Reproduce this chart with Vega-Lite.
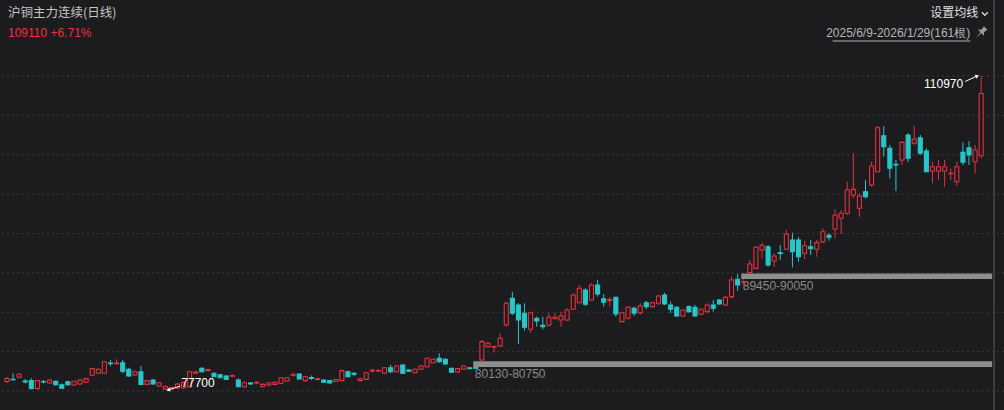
{
  "$schema": "https://vega.github.io/schema/vega-lite/v6.json",
  "width": 1004,
  "height": 410,
  "padding": 0,
  "autosize": {"type": "none"},
  "background": "#1c1c1e",
  "config": {"view": {"stroke": null}, "font": "Liberation Sans"},
  "title": {
    "text": "沪铜主力连续(日线)",
    "subtitle": "109110 +6.71%",
    "anchor": "start",
    "frame": "group",
    "orient": "top",
    "offset": -40,
    "dx": 8,
    "font": "Noto Sans CJK SC",
    "fontSize": 12.5,
    "fontWeight": "normal",
    "color": "#c4c4c4",
    "subtitleFont": "Liberation Sans",
    "subtitleFontSize": 12,
    "subtitleColor": "#f0303e",
    "subtitlePadding": 9
  },
  "datasets": {
    "candles": [
      {"i":0,"o":78600,"h":79080,"l":78440,"c":78920},
      {"i":1,"o":78830,"h":79470,"l":78710,"c":78780},
      {"i":2,"o":79050,"h":79450,"l":78970,"c":79360},
      {"i":3,"o":78650,"h":78870,"l":78390,"c":78550},
      {"i":4,"o":78690,"h":78940,"l":77750,"c":77860},
      {"i":5,"o":77840,"h":78760,"l":77750,"c":78690},
      {"i":6,"o":78600,"h":78760,"l":78390,"c":78550},
      {"i":7,"o":78440,"h":78870,"l":78340,"c":78760},
      {"i":8,"o":78620,"h":78710,"l":78180,"c":78260},
      {"i":9,"o":78260,"h":78390,"l":77810,"c":77880},
      {"i":10,"o":78580,"h":78690,"l":78160,"c":78260},
      {"i":11,"o":78230,"h":78650,"l":78120,"c":78620},
      {"i":12,"o":78340,"h":78870,"l":78230,"c":78760},
      {"i":13,"o":78520,"h":78970,"l":78440,"c":78900},
      {"i":14,"o":79260,"h":80080,"l":79180,"c":79960},
      {"i":15,"o":79470,"h":79980,"l":79400,"c":79890},
      {"i":16,"o":79470,"h":80770,"l":79400,"c":80700},
      {"i":17,"o":80560,"h":80880,"l":80240,"c":80490},
      {"i":18,"o":80490,"h":80950,"l":80350,"c":80560},
      {"i":19,"o":80590,"h":80880,"l":79470,"c":79680},
      {"i":20,"o":79890,"h":80060,"l":79080,"c":79180},
      {"i":21,"o":79290,"h":79770,"l":79180,"c":79640},
      {"i":22,"o":79640,"h":80240,"l":78200,"c":78300},
      {"i":23,"o":78300,"h":78760,"l":78230,"c":78690},
      {"i":24,"o":78760,"h":78870,"l":78230,"c":78340},
      {"i":25,"o":78120,"h":78550,"l":78050,"c":78470},
      {"i":26,"o":77810,"h":78180,"l":77700,"c":78070},
      {"i":27,"o":77810,"h":78070,"l":77730,"c":77970},
      {"i":28,"o":77910,"h":78440,"l":77810,"c":78340},
      {"i":29,"o":77910,"h":78600,"l":77810,"c":78500},
      {"i":30,"o":78020,"h":79710,"l":77910,"c":79640},
      {"i":31,"o":79470,"h":79750,"l":79400,"c":79610},
      {"i":32,"o":80000,"h":80110,"l":79580,"c":79640},
      {"i":33,"o":79750,"h":79960,"l":79710,"c":79870},
      {"i":34,"o":79470,"h":79550,"l":79080,"c":79110},
      {"i":35,"o":79320,"h":79400,"l":78970,"c":79000},
      {"i":36,"o":79180,"h":79290,"l":78760,"c":78830},
      {"i":37,"o":79150,"h":79360,"l":79080,"c":79220},
      {"i":38,"o":78760,"h":78940,"l":77990,"c":78050},
      {"i":39,"o":78050,"h":78600,"l":77970,"c":78470},
      {"i":40,"o":78440,"h":78550,"l":78230,"c":78340},
      {"i":41,"o":78440,"h":78600,"l":78340,"c":78520},
      {"i":42,"o":78050,"h":78390,"l":77970,"c":78300},
      {"i":43,"o":78230,"h":78550,"l":78120,"c":78470},
      {"i":44,"o":78300,"h":78600,"l":78230,"c":78520},
      {"i":45,"o":78410,"h":79080,"l":78340,"c":79000},
      {"i":46,"o":78650,"h":79080,"l":78580,"c":79000},
      {"i":47,"o":79260,"h":79550,"l":79130,"c":79320},
      {"i":48,"o":79400,"h":79450,"l":78810,"c":78870},
      {"i":49,"o":78690,"h":79180,"l":78580,"c":79110},
      {"i":50,"o":79020,"h":79240,"l":78760,"c":78920},
      {"i":51,"o":78810,"h":78970,"l":78710,"c":78900},
      {"i":52,"o":78760,"h":78810,"l":78440,"c":78520},
      {"i":53,"o":78710,"h":78760,"l":78390,"c":78440},
      {"i":54,"o":78600,"h":78870,"l":78550,"c":78810},
      {"i":55,"o":78690,"h":79870,"l":78650,"c":79750},
      {"i":56,"o":79640,"h":79750,"l":79050,"c":79110},
      {"i":57,"o":79470,"h":79580,"l":79180,"c":79360},
      {"i":58,"o":78710,"h":79020,"l":78580,"c":78870},
      {"i":59,"o":78830,"h":79610,"l":78760,"c":79530},
      {"i":60,"o":79710,"h":79960,"l":79550,"c":79790},
      {"i":61,"o":79710,"h":79870,"l":79610,"c":79770},
      {"i":62,"o":79470,"h":80140,"l":79400,"c":80060},
      {"i":63,"o":80060,"h":80350,"l":79470,"c":79640},
      {"i":64,"o":79640,"h":80320,"l":79580,"c":80240},
      {"i":65,"o":80350,"h":80420,"l":79400,"c":79470},
      {"i":66,"o":79820,"h":79890,"l":79610,"c":79680},
      {"i":67,"o":79530,"h":79980,"l":79470,"c":79890},
      {"i":68,"o":79890,"h":80320,"l":79820,"c":80240},
      {"i":69,"o":80170,"h":81140,"l":80110,"c":81060},
      {"i":70,"o":80590,"h":81020,"l":80530,"c":80950},
      {"i":71,"o":81060,"h":81590,"l":80590,"c":80700},
      {"i":72,"o":80950,"h":81060,"l":80380,"c":80460},
      {"i":73,"o":80000,"h":80060,"l":79500,"c":79580},
      {"i":74,"o":79610,"h":80030,"l":79530,"c":79960},
      {"i":75,"o":79890,"h":80320,"l":79820,"c":80240},
      {"i":76,"o":80050,"h":80110,"l":79870,"c":79970},
      {"i":77,"o":80080,"h":80130,"l":79930,"c":80000},
      {"i":78,"o":80880,"h":83000,"l":80750,"c":82820},
      {"i":79,"o":82290,"h":82790,"l":82180,"c":82650},
      {"i":80,"o":82230,"h":82420,"l":81670,"c":82290},
      {"i":81,"o":82360,"h":83710,"l":82260,"c":83180},
      {"i":82,"o":84590,"h":87060,"l":84410,"c":86890},
      {"i":83,"o":87420,"h":88120,"l":85650,"c":85830},
      {"i":84,"o":86710,"h":86890,"l":82570,"c":85120},
      {"i":85,"o":85830,"h":86890,"l":83980,"c":84340},
      {"i":86,"o":84130,"h":86000,"l":83770,"c":85890},
      {"i":87,"o":85300,"h":85470,"l":84410,"c":85010},
      {"i":88,"o":84560,"h":85470,"l":84130,"c":84410},
      {"i":89,"o":84590,"h":85890,"l":84410,"c":85400},
      {"i":90,"o":85250,"h":85890,"l":85190,"c":85400},
      {"i":91,"o":85120,"h":86000,"l":84410,"c":85540},
      {"i":92,"o":85120,"h":86360,"l":85010,"c":86180},
      {"i":93,"o":86250,"h":87950,"l":86180,"c":87770},
      {"i":94,"o":86950,"h":88830,"l":86890,"c":88480},
      {"i":95,"o":88300,"h":88480,"l":86600,"c":86780},
      {"i":96,"o":87240,"h":89010,"l":87160,"c":88830},
      {"i":97,"o":88830,"h":89360,"l":87590,"c":87870},
      {"i":98,"o":87370,"h":87870,"l":86530,"c":86990},
      {"i":99,"o":87180,"h":87520,"l":86600,"c":87290},
      {"i":100,"o":87520,"h":87590,"l":85470,"c":85750},
      {"i":101,"o":84940,"h":86000,"l":84870,"c":85890},
      {"i":102,"o":85300,"h":86600,"l":85170,"c":86460},
      {"i":103,"o":86360,"h":86530,"l":85540,"c":85830},
      {"i":104,"o":85890,"h":86890,"l":85650,"c":86600},
      {"i":105,"o":86950,"h":87160,"l":86250,"c":86530},
      {"i":106,"o":86530,"h":87060,"l":86440,"c":86950},
      {"i":107,"o":86890,"h":87770,"l":86710,"c":87660},
      {"i":108,"o":87770,"h":88010,"l":86710,"c":86810},
      {"i":109,"o":86710,"h":87060,"l":85830,"c":86250},
      {"i":110,"o":86460,"h":86600,"l":85430,"c":85540},
      {"i":111,"o":85540,"h":86280,"l":85430,"c":86180},
      {"i":112,"o":86530,"h":86650,"l":85910,"c":86000},
      {"i":113,"o":86460,"h":86710,"l":85470,"c":85540},
      {"i":114,"o":85720,"h":86340,"l":85650,"c":86250},
      {"i":115,"o":86000,"h":86890,"l":85830,"c":86710},
      {"i":116,"o":86710,"h":87240,"l":86000,"c":86360},
      {"i":117,"o":87240,"h":87340,"l":86710,"c":86810},
      {"i":118,"o":86710,"h":87660,"l":86600,"c":87520},
      {"i":119,"o":87590,"h":89700,"l":87420,"c":89360},
      {"i":120,"o":89430,"h":89990,"l":88220,"c":88830},
      {"i":121,"o":89110,"h":89450,"l":88720,"c":89170},
      {"i":122,"o":90150,"h":91470,"l":90050,"c":91050},
      {"i":123,"o":90590,"h":92960,"l":90490,"c":92820},
      {"i":124,"o":92530,"h":93310,"l":91650,"c":93030},
      {"i":125,"o":92880,"h":93060,"l":90760,"c":90940},
      {"i":126,"o":91370,"h":92180,"l":90760,"c":91900},
      {"i":127,"o":92250,"h":93060,"l":91470,"c":92160},
      {"i":128,"o":92610,"h":94650,"l":92530,"c":94230},
      {"i":129,"o":93590,"h":94370,"l":90700,"c":92350},
      {"i":130,"o":93590,"h":93880,"l":91290,"c":91820},
      {"i":131,"o":92180,"h":93520,"l":91550,"c":92990},
      {"i":132,"o":92880,"h":93590,"l":92000,"c":92670},
      {"i":133,"o":92610,"h":93590,"l":91820,"c":93310},
      {"i":134,"o":93410,"h":94830,"l":93240,"c":94470},
      {"i":135,"o":94090,"h":94300,"l":93520,"c":93880},
      {"i":136,"o":94760,"h":96850,"l":93770,"c":96240},
      {"i":137,"o":95890,"h":96770,"l":94230,"c":96420},
      {"i":138,"o":96420,"h":99770,"l":96240,"c":98890},
      {"i":139,"o":98360,"h":102780,"l":98010,"c":98960},
      {"i":140,"o":96950,"h":98540,"l":96060,"c":98250},
      {"i":141,"o":98710,"h":99950,"l":98010,"c":98180},
      {"i":142,"o":99420,"h":101890,"l":99240,"c":101430},
      {"i":143,"o":100830,"h":105670,"l":100770,"c":105490},
      {"i":144,"o":104640,"h":105670,"l":102420,"c":103480},
      {"i":145,"o":103310,"h":103660,"l":100130,"c":101190},
      {"i":146,"o":101610,"h":102070,"l":98780,"c":101540},
      {"i":147,"o":102070,"h":104080,"l":101540,"c":103940},
      {"i":148,"o":104720,"h":104900,"l":101830,"c":102250},
      {"i":149,"o":103840,"h":105700,"l":103660,"c":104290},
      {"i":150,"o":104430,"h":104720,"l":102600,"c":102780},
      {"i":151,"o":103020,"h":103310,"l":100770,"c":100830},
      {"i":152,"o":100900,"h":101890,"l":99600,"c":101360},
      {"i":153,"o":100900,"h":102070,"l":99950,"c":101360},
      {"i":154,"o":100900,"h":102070,"l":99240,"c":101360},
      {"i":155,"o":100620,"h":101190,"l":99950,"c":100660},
      {"i":156,"o":99770,"h":101890,"l":99350,"c":101360},
      {"i":157,"o":102880,"h":103940,"l":101540,"c":101830},
      {"i":158,"o":103370,"h":104080,"l":101540,"c":102600},
      {"i":159,"o":101890,"h":103660,"l":100660,"c":103130},
      {"i":160,"o":102520,"h":110970,"l":102250,"c":109110}
    ],
    "grid": [
      {"g":110970},{"g":106798},{"g":102626},{"g":98454},{"g":94282},
      {"g":90110},{"g":85938},{"g":81766},{"g":77594}
    ],
    "gaps": [
      {"start":77,"lo":80130,"hi":80750,"label":"80130-80750"},
      {"start":121,"lo":89450,"hi":90050,"label":"89450-90050"}
    ]
  },
  "layer": [
    {
      "data": {"name": "grid"},
      "mark": {"type": "rule", "color": "#3b3b3d", "strokeWidth": 1, "strokeDash": [2, 3]},
      "encoding": {
        "y": {"field": "g", "type": "quantitative", "scale": {"domain": [75580, 119020], "nice": false, "zero": false}, "axis": null}
      }
    },
    {
      "data": {"values": [{}]},
      "mark": {"type": "rule", "color": "#3c3c3e", "strokeWidth": 2},
      "encoding": {
        "x": {"datum": 162.11, "type": "quantitative", "scale": {"domain": [-0.325, 162.927], "nice": false, "zero": false}, "axis": null}
      }
    },
    {
      "data": {"name": "gaps"},
      "layer": [
        {
          "mark": {"type": "rect", "color": "#8e8e8e", "opacity": 1, "xOffset": -2.5},
          "encoding": {
            "x": {"field": "start", "type": "quantitative", "scale": {"domain": [-0.325, 162.927], "nice": false, "zero": false}, "axis": null},
            "x2": {"datum": 161.8},
            "y": {"field": "lo", "type": "quantitative", "scale": {"domain": [75580, 119020], "nice": false, "zero": false}, "axis": null},
            "y2": {"field": "hi"}
          }
        },
        {
          "mark": {"type": "text", "color": "#8a8a8a", "fontSize": 12, "align": "left", "baseline": "middle", "dx": -1, "dy": 6.5, "font": "Liberation Sans"},
          "encoding": {
            "x": {"field": "start", "type": "quantitative", "scale": {"domain": [-0.325, 162.927], "nice": false, "zero": false}, "axis": null},
            "y": {"field": "lo", "type": "quantitative", "scale": {"domain": [75580, 119020], "nice": false, "zero": false}, "axis": null},
            "text": {"field": "label"}
          }
        }
      ]
    },
    {
      "data": {"name": "candles"},
      "layer": [
        {
          "mark": {"type": "rule", "strokeWidth": 1},
          "encoding": {
            "x": {"field": "i", "type": "quantitative", "scale": {"domain": [-0.325, 162.927], "nice": false, "zero": false}, "axis": null},
            "y": {"field": "l", "type": "quantitative", "scale": {"domain": [75580, 119020], "nice": false, "zero": false}, "axis": null},
            "y2": {"field": "h"},
            "color": {"condition": {"test": "datum.c >= datum.o", "value": "#e6323e"}, "value": "#27c6c9"}
          }
        },
        {
          "mark": {"type": "bar", "width": 4, "strokeWidth": 1.1},
          "encoding": {
            "x": {"field": "i", "type": "quantitative", "scale": {"domain": [-0.325, 162.927], "nice": false, "zero": false}, "axis": null},
            "y": {"field": "o", "type": "quantitative", "scale": {"domain": [75580, 119020], "nice": false, "zero": false}, "axis": null},
            "y2": {"field": "c"},
            "fill": {"condition": {"test": "datum.c >= datum.o", "value": "#1c1c1e"}, "value": "#27c6c9"},
            "stroke": {"condition": {"test": "datum.c >= datum.o", "value": "#e6323e"}, "value": "#27c6c9"}
          }
        }
      ]
    },
    {
      "data": {"values": [{"i": 160, "p": 110970, "label": "110970"}]},
      "layer": [
        {
          "mark": {"type": "rule", "color": "#ffffff", "strokeWidth": 1, "xOffset": -4, "yOffset": 0, "x2Offset": -16, "y2Offset": 5.5},
          "encoding": {
            "x": {"field": "i", "type": "quantitative", "scale": {"domain": [-0.325, 162.927], "nice": false, "zero": false}, "axis": null},
            "y": {"field": "p", "type": "quantitative", "scale": {"domain": [75580, 119020], "nice": false, "zero": false}, "axis": null},
            "x2": {"field": "i"},
            "y2": {"field": "p"}
          }
        },
        {
          "mark": {"type": "point", "shape": "triangle", "filled": true, "color": "#ffffff", "opacity": 1, "size": 18, "angle": 65, "xOffset": -4.5, "yOffset": 0.3},
          "encoding": {
            "x": {"field": "i", "type": "quantitative", "scale": {"domain": [-0.325, 162.927], "nice": false, "zero": false}, "axis": null},
            "y": {"field": "p", "type": "quantitative", "scale": {"domain": [75580, 119020], "nice": false, "zero": false}, "axis": null}
          }
        },
        {
          "mark": {"type": "text", "color": "#ffffff", "fontSize": 12, "align": "right", "baseline": "middle", "dx": -18, "dy": 8, "font": "Liberation Sans"},
          "encoding": {
            "x": {"field": "i", "type": "quantitative", "scale": {"domain": [-0.325, 162.927], "nice": false, "zero": false}, "axis": null},
            "y": {"field": "p", "type": "quantitative", "scale": {"domain": [75580, 119020], "nice": false, "zero": false}, "axis": null},
            "text": {"field": "label"}
          }
        }
      ]
    },
    {
      "data": {"values": [{"i": 26, "p": 77700, "label": "77700"}]},
      "layer": [
        {
          "mark": {"type": "rule", "color": "#ffffff", "strokeWidth": 1, "xOffset": 3, "yOffset": 0, "x2Offset": 15, "y2Offset": -4},
          "encoding": {
            "x": {"field": "i", "type": "quantitative", "scale": {"domain": [-0.325, 162.927], "nice": false, "zero": false}, "axis": null},
            "y": {"field": "p", "type": "quantitative", "scale": {"domain": [75580, 119020], "nice": false, "zero": false}, "axis": null},
            "x2": {"field": "i"},
            "y2": {"field": "p"}
          }
        },
        {
          "mark": {"type": "point", "shape": "triangle", "filled": true, "color": "#ffffff", "opacity": 1, "size": 18, "angle": 252, "xOffset": 3.5, "yOffset": -0.2},
          "encoding": {
            "x": {"field": "i", "type": "quantitative", "scale": {"domain": [-0.325, 162.927], "nice": false, "zero": false}, "axis": null},
            "y": {"field": "p", "type": "quantitative", "scale": {"domain": [75580, 119020], "nice": false, "zero": false}, "axis": null}
          }
        },
        {
          "mark": {"type": "text", "color": "#ffffff", "fontSize": 12, "align": "left", "baseline": "middle", "dx": 16, "dy": -6.5, "font": "Liberation Sans"},
          "encoding": {
            "x": {"field": "i", "type": "quantitative", "scale": {"domain": [-0.325, 162.927], "nice": false, "zero": false}, "axis": null},
            "y": {"field": "p", "type": "quantitative", "scale": {"domain": [75580, 119020], "nice": false, "zero": false}, "axis": null},
            "text": {"field": "label"}
          }
        }
      ]
    },
    {
      "data": {"values": [{}]},
      "layer": [
        {
          "mark": {"type": "text", "color": "#e0e0e0", "fontSize": 12, "align": "right", "baseline": "middle", "font": "Noto Sans CJK SC"},
          "encoding": {
            "x": {"datum": 159.51, "type": "quantitative", "scale": {"domain": [-0.325, 162.927], "nice": false, "zero": false}, "axis": null},
            "y": {"datum": 117640, "type": "quantitative", "scale": {"domain": [75580, 119020], "nice": false, "zero": false}, "axis": null},
            "text": {"value": "设置均线"}
          }
        },
        {
          "mark": {"type": "point", "shape": "M-1,-0.5L0,0.5L1,-0.5", "filled": false, "stroke": "#dcdcdc", "strokeWidth": 1.2, "size": 36, "opacity": 1},
          "encoding": {
            "x": {"datum": 160.6, "type": "quantitative", "scale": {"domain": [-0.325, 162.927], "nice": false, "zero": false}, "axis": null},
            "y": {"datum": 117560, "type": "quantitative", "scale": {"domain": [75580, 119020], "nice": false, "zero": false}, "axis": null}
          }
        },
        {
          "mark": {"type": "text", "color": "#b4b4b4", "fontSize": 12, "align": "right", "baseline": "middle", "font": "Liberation Sans"},
          "encoding": {
            "x": {"datum": 158.21, "type": "quantitative", "scale": {"domain": [-0.325, 162.927], "nice": false, "zero": false}, "axis": null},
            "y": {"datum": 115524, "type": "quantitative", "scale": {"domain": [75580, 119020], "nice": false, "zero": false}, "axis": null},
            "text": {"value": "2025/6/9-2026/1/29(161根)"}
          }
        },
        {
          "mark": {"type": "rule", "color": "#b4b4b4", "strokeWidth": 1},
          "encoding": {
            "x": {"datum": 135.6, "type": "quantitative", "scale": {"domain": [-0.325, 162.927], "nice": false, "zero": false}, "axis": null},
            "x2": {"datum": 158.21},
            "y": {"datum": 114676, "type": "quantitative", "scale": {"domain": [75580, 119020], "nice": false, "zero": false}, "axis": null}
          }
        },
        {
          "mark": {"type": "point", "shape": "M-0.35,-1L0.35,-1L0.25,-0.45L0.6,-0.05L-0.6,-0.05L-0.25,-0.45ZM-0.08,-0.05L0.08,-0.05L0,1Z", "filled": true, "color": "#9a9a9a", "size": 200, "angle": 45, "opacity": 1},
          "encoding": {
            "x": {"datum": 159.92, "type": "quantitative", "scale": {"domain": [-0.325, 162.927], "nice": false, "zero": false}, "axis": null},
            "y": {"datum": 115524, "type": "quantitative", "scale": {"domain": [75580, 119020], "nice": false, "zero": false}, "axis": null}
          }
        }
      ]
    }
  ]
}
